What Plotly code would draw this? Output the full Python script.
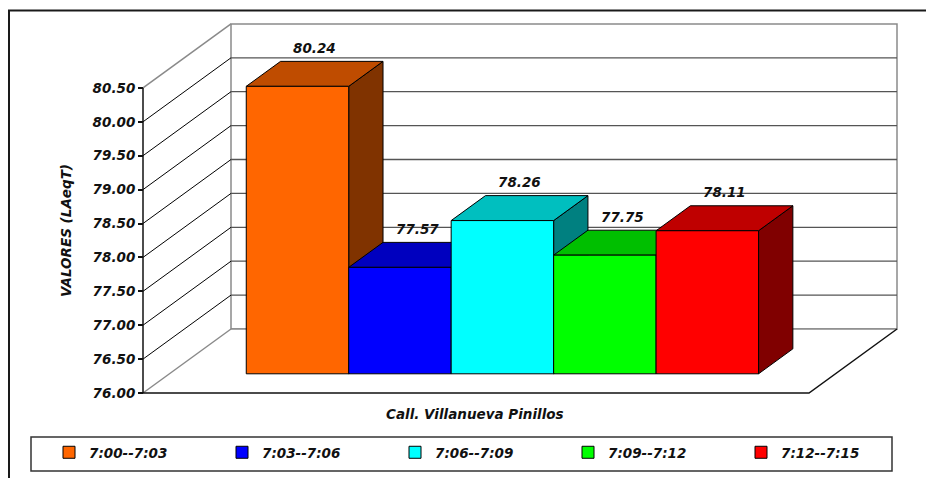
import plotly.graph_objects as go

# ---------------- data ----------------
series = ["7:00--7:03", "7:03--7:06", "7:06--7:09", "7:09--7:12", "7:12--7:15"]
values = [80.24, 77.57, 78.26, 77.75, 78.11]
front_colors = ["#FF6600", "#0000FF", "#00FFFF", "#00FF00", "#FF0000"]
top_colors = ["#BF4C00", "#0000BF", "#00BFBF", "#00BF00", "#BF0000"]
side_colors = ["#803300", "#000080", "#008080", "#008000", "#800000"]
tick_vals = [76.0, 76.5, 77.0, 77.5, 78.0, 78.5, 79.0, 79.5, 80.0, 80.5]
category = "Call. Villanueva Pinillos"
y_title = "VALORES (LAeqT)"

# ---------------- geometry (oblique 3D projection in data units) ----------------
W_PX, H_PX = 926, 478
AX_X0_PX, AX_X1_PX = 143, 809        # front floor edge in pixels
Y0_PX, PX_PER_UNIT = 393, 67.8       # pixel of 76.00 and pixels per value unit
Y_MIN, Y_MAX = tick_vals[0], tick_vals[-1]
KX = 88 / (AX_X1_PX - AX_X0_PX)      # depth shift in x units for full depth
KY = 64 / PX_PER_UNIT                # depth shift in value units for full depth
D0, DL = 0.30, 0.39                  # bar depth start and length
N = len(values)
BW = 1 / (N + 1.5)                   # bar width (gap width 150%)
GAP = 0.75 * BW

x_lo = -AX_X0_PX / (AX_X1_PX - AX_X0_PX)
x_hi = (W_PX - AX_X0_PX) / (AX_X1_PX - AX_X0_PX)
y_hi = Y_MIN + Y0_PX / PX_PER_UNIT
y_lo = Y_MIN - (H_PX - Y0_PX) / PX_PER_UNIT

FONT = dict(family="DejaVu Sans", size=13.5, color="#111111", weight="bold", style="italic")


def P(u, v, d):
    return u + d * KX, v + d * KY


fig = go.Figure()


def poly(pts, fill, line_color, lw=1):
    xs = [p[0] for p in pts] + [pts[0][0]]
    ys = [p[1] for p in pts] + [pts[0][1]]
    fig.add_trace(go.Scatter(x=xs, y=ys, mode="lines", fill="toself", fillcolor=fill,
                             line=dict(color=line_color, width=lw), hoverinfo="skip",
                             showlegend=False))


def line(pts, color, lw=1):
    fig.add_trace(go.Scatter(x=[p[0] for p in pts], y=[p[1] for p in pts], mode="lines",
                             line=dict(color=color, width=lw), hoverinfo="skip",
                             showlegend=False))


# legend / underlying bars (front faces, drawn via bar layer)
for i in range(N):
    cx = GAP + (i + 0.5) * BW + D0 * KX
    base = Y_MIN + D0 * KY
    fig.add_trace(go.Bar(x=[cx], y=[values[i] - Y_MIN], base=[base], width=[BW],
                         name=series[i], marker=dict(color=front_colors[i],
                                                      line=dict(color="#000000", width=1)),
                         hoverinfo="skip"))

# walls and floor
poly([P(0, Y_MIN, 0), P(0, Y_MIN, 1), P(0, Y_MAX, 1), P(0, Y_MAX, 0)], "white", "rgba(0,0,0,0)")
poly([P(0, Y_MIN, 1), P(1, Y_MIN, 1), P(1, Y_MAX, 1), P(0, Y_MAX, 1)], "white", "#8a8a8a", 1.5)
poly([P(0, Y_MIN, 0), P(1, Y_MIN, 0), P(1, Y_MIN, 1), P(0, Y_MIN, 1)], "white", "rgba(0,0,0,0)")

# gridlines
for t in tick_vals[1:-1]:
    line([P(0, t, 0), P(0, t, 1)], "#000000", 1)
    line([P(0, t, 1), P(1, t, 1)], "#555555", 1.3)
line([P(0, Y_MAX, 0), P(0, Y_MAX, 1)], "#8a8a8a", 1.5)
line([P(0, Y_MIN, 0), P(0, Y_MIN, 1)], "#8a8a8a", 1.5)
line([P(0, Y_MIN, 1), P(1, Y_MIN, 1)], "#8a8a8a", 1.5)

# floor front and right edges, front value axis
line([P(0, Y_MIN, 0), P(1, Y_MIN, 0), P(1, Y_MIN, 1)], "#111111", 1.5)
line([P(0, Y_MIN, 0), P(0, Y_MAX, 0)], "#111111", 1.5)

# 3D bars
for i, v in enumerate(values):
    u0 = GAP + i * BW
    u1 = u0 + BW
    d1 = D0 + DL
    poly([P(u1, Y_MIN, D0), P(u1, Y_MIN, d1), P(u1, v, d1), P(u1, v, D0)], side_colors[i], "#000000")
    poly([P(u0, v, D0), P(u1, v, D0), P(u1, v, d1), P(u0, v, d1)], top_colors[i], "#000000")
    poly([P(u0, Y_MIN, D0), P(u1, Y_MIN, D0), P(u1, v, D0), P(u0, v, D0)], front_colors[i], "#000000")
    lx, ly = P((u0 + u1) / 2, v, D0 + DL / 2)
    fig.add_annotation(x=lx, y=ly, text=f"{v:.2f}", showarrow=False, yshift=26,
                       font=FONT, xanchor="center", yanchor="middle")

# titles
fig.add_annotation(xref="paper", yref="paper", x=66 / W_PX, y=1 - 231 / H_PX, text=y_title,
                   textangle=-90, showarrow=False, font=FONT, xanchor="center", yanchor="middle")
fig.add_annotation(xref="paper", yref="paper", x=475 / W_PX, y=1 - 414 / H_PX, text=category,
                   showarrow=False, font=FONT, xanchor="center", yanchor="middle")

# outer chart border
fig.add_shape(type="rect", xref="paper", yref="paper", x0=9 / W_PX, x1=1.2,
              y0=-0.2, y1=1 - 10.5 / H_PX, line=dict(color="#1a1a1a", width=2))
# legend frame
fig.add_shape(type="rect", xref="paper", yref="paper", x0=31 / W_PX, x1=892 / W_PX,
              y0=1 - 471 / H_PX, y1=1 - 437 / H_PX, line=dict(color="#333333", width=1.5),
              layer="below")

fig.update_layout(
    width=W_PX, height=H_PX, margin=dict(l=0, r=0, t=0, b=0),
    paper_bgcolor="white", plot_bgcolor="white", barmode="overlay",
    xaxis=dict(range=[x_lo, x_hi], visible=False, domain=[0, 1]),
    yaxis=dict(range=[y_lo, y_hi], domain=[0, 1], anchor="free", position=AX_X0_PX / W_PX,
               tickvals=tick_vals, ticktext=[f"{t:.2f}" for t in tick_vals],
               ticks="outside", ticklen=5, tickcolor="#111111", tickwidth=1.5,
               showgrid=False, zeroline=False, showline=False, tickfont=FONT),
    showlegend=True,
    legend=dict(orientation="h", x=49 / W_PX, y=1 - 437 / H_PX, xanchor="left", yanchor="top",
                borderwidth=0, bgcolor="rgba(0,0,0,0)",
                entrywidth=128, entrywidthmode="pixels", font=FONT, itemclick=False),
)

fig.write_html("out.html")
